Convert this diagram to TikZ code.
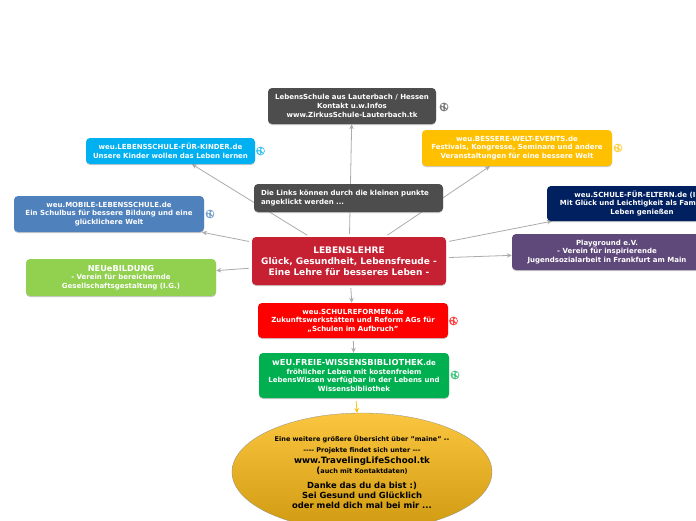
\documentclass[tikz,border=0pt]{standalone}
\usepackage{fontspec}
\setmainfont{DejaVu Sans}
\usepackage{tikz}
\usetikzlibrary{arrows.meta,backgrounds,shadows,shapes.geometric}
\definecolor{darkbox}{HTML}{4D4D4D}
\definecolor{orangebox}{HTML}{FFC000}
\definecolor{bluebox}{HTML}{00B0F0}
\definecolor{steelbox}{HTML}{4F81BD}
\definecolor{limebox}{HTML}{92D050}
\definecolor{crimsonbox}{HTML}{C62033}
\definecolor{navybox}{HTML}{002060}
\definecolor{purplebox}{HTML}{5F497A}
\definecolor{greenbox}{HTML}{00B050}
\definecolor{linkgray}{HTML}{ABABAB}
\definecolor{ovaltop}{HTML}{FBC63F}
\definecolor{ovalbottom}{HTML}{CF9A10}
\tikzset{
  topic/.style={rectangle,rounded corners=4pt,minimum width=190pt,inner sep=0pt,align=center,
    text=white,font=\fontsize{7}{8.7}\selectfont\bfseries,
    drop shadow={shadow xshift=0pt,shadow yshift=-1pt,opacity=.35,fill=black!60}},
  link/.style={draw=linkgray,line width=.8pt,shorten <=3pt,-{Stealth[length=5pt,width=4.5pt]}},
  globe/.pic={
    \fill[#1!75] (0,0) circle (4.4pt);
    \fill[white] (-3,-2.2) -- (-1,-3.2) -- (-.2,-2) -- (-1.6,-.6) -- cycle;
    \fill[white] (.6,-1.6) -- (2.2,-2.8) -- (3.4,-.8) -- (3,1.6) -- (1.6,.6) -- cycle;
    \fill[white] (-2.8,.6) -- (-1.2,.2) -- (-.4,2) -- (-1,3.2) -- cycle;
    \fill[white] (.6,2.2) -- (2,2) -- (1.2,3.4) -- cycle;
  }
}
\begin{document}
\begin{tikzpicture}[x=1pt,y=-1pt]
  \useasboundingbox (0,0) rectangle (696,520);
  \clip (0,0) rectangle (696,520);
  \node[topic,fill=crimsonbox,minimum width=194pt,minimum height=48pt,font=\fontsize{9}{11}\selectfont\bfseries] (central) at (349,261) {LEBENSLEHRE\\Glück, Gesundheit, Lebensfreude -\\Eine Lehre für besseres Leben -};
  \node[topic,fill=darkbox,minimum width=168pt,minimum height=36pt] (zirkus) at (352,106) {LebensSchule aus Lauterbach / Hessen\\Kontakt u.w.Infos\\www.ZirkusSchule-Lauterbach.tk};
  \node[topic,fill=orangebox,minimum height=36pt] (events) at (517,148) {weu.BESSERE-WELT-EVENTS.de\\Festivals, Kongresse, Seminare und andere\\Veranstaltungen für eine bessere Welt};
  \node[topic,fill=bluebox,minimum width=169pt,minimum height=26pt] (kinder) at (170.5,151) {weu.LEBENSSCHULE-FÜR-KINDER.de\\Unsere Kinder wollen das Leben lernen};
  \node[topic,fill=darkbox,minimum width=189pt,minimum height=28pt,text width=175pt,align=left] (hinweis) at (348.5,198) {Die Links können durch die kleinen punkte\\angeklickt werden ...};
  \node[topic,fill=steelbox,minimum height=36pt] (mobile) at (109,214) {weu.MOBILE-LEBENSSCHULE.de\\Ein Schulbus für bessere Bildung und eine\\glücklichere Welt};
  \node[topic,fill=limebox,minimum height=37pt] (bildung) at (121,277.5) {{\fontsize{8.2}{8.7}\selectfont NEUeBILDUNG}\\- Verein für bereichernde\\Gesellschaftsgestaltung (I.G.)};
  \node[topic,fill=navybox,minimum height=35pt] (eltern) at (642,203.5) {weu.SCHULE-FÜR-ELTERN.de (I.G.)\\Mit Glück und Leichtigkeit als Familie das\\Leben genießen};
  \node[topic,fill=purplebox,minimum height=36pt] (playground) at (607,252) {Playground e.V.\\- Verein für inspirierende\\Jugendsozialarbeit in Frankfurt am Main};
  \node[topic,fill=red,minimum height=35pt] (reformen) at (353,320.5) {weu.SCHULREFORMEN.de\\Zukunftswerkstätten und Reform AGs für\\„Schulen im Aufbruch"};
  \node[topic,fill=greenbox,minimum height=45pt] (bibliothek) at (354,375.5) {{\fontsize{8.3}{8.7}\selectfont wEU.FREIE-WISSENSBIBLIOTHEK}.de\\fröhlicher Leben mit kostenfreiem\\LebensWissen verfügbar in der Lebens und\\Wissensbibliothek};
  \node[ellipse,minimum width=260pt,minimum height=118pt,inner sep=0pt,align=center,draw=black!45,line width=.3pt,
    top color=ovaltop,bottom color=ovalbottom,font=\bfseries\fontsize{6.5}{10}\selectfont] (oval) at (362,472)
    {Eine weitere größere Übersicht über "maine" -{}-\\[1pt]
     -{}-{}-{}- Projekte findet sich unter -{}-{}-\\[1pt]
     {\fontsize{8.7}{10}\selectfont www.TravelingLifeSchool.tk}\\
     {\fontsize{8.7}{10}\selectfont (}auch mit Kontaktdaten)\\[5pt]
     {\fontsize{8.4}{10}\selectfont Danke das du da bist :)}\\
     {\fontsize{8.4}{10}\selectfont Sei Gesund und Glücklich}\\
     {\fontsize{8.4}{10}\selectfont oder meld dich mal bei mir ...}};
  \pic at (444,107) {globe=darkbox};
  \pic at (618,148) {globe=orangebox};
  \pic at (260.5,151) {globe=bluebox};
  \pic at (210,214) {globe=steelbox};
  \pic at (453.5,321) {globe=red};
  \pic at (455,375) {globe=greenbox};
  \begin{scope}[on background layer]
    \draw[link] (central) -- (zirkus);
    \draw[link] (central) -- (events);
    \draw[link] (central) -- (kinder);
    \draw[link] (central) -- (mobile);
    \draw[link] (central) -- (bildung);
    \draw[link] (central) -- (eltern);
    \draw[link] (central) -- (playground);
    \draw[link] (central) -- (reformen);
    \draw[link] (reformen) -- (bibliothek);
    \draw[link,draw=orangebox] (bibliothek) -- (oval);
  \end{scope}
\end{tikzpicture}
\end{document}
